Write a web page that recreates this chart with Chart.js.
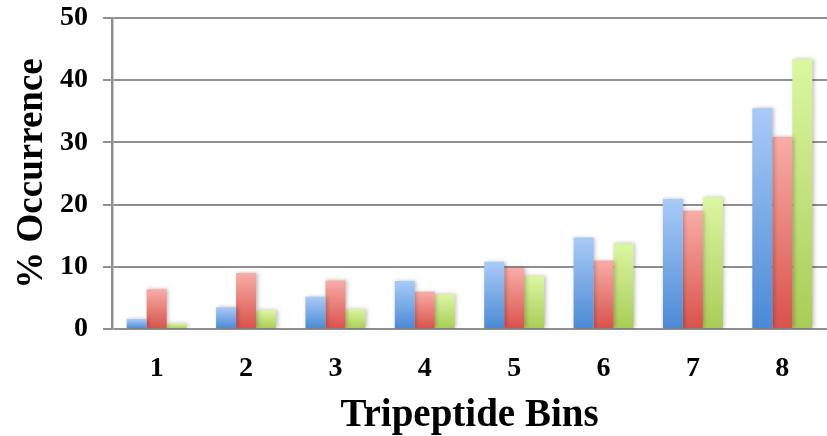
<!DOCTYPE html>
<html>
<head>
<meta charset="utf-8">
<script src="https://cdn.jsdelivr.net/npm/chart.js@4/dist/chart.umd.min.js"></script>
<style>
  html, body { margin: 0; padding: 0; background: #ffffff; }
  #wrap { width: 827px; height: 436px; }
</style>
</head>
<body>
<div id="wrap"><canvas id="chart" width="827" height="436"></canvas></div>
<script>
// Tripeptide bin occurrence, three series per bin
const bins = ['1', '2', '3', '4', '5', '6', '7', '8'];
const blueSeries  = [1.6, 3.5, 5.2, 7.7, 10.8, 14.7, 20.9, 35.5];
const redSeries   = [6.4, 9.0, 7.8, 6.0, 9.8, 11.0, 19.0, 30.9];
const greenSeries = [0.9, 3.0, 3.2, 5.6, 8.6, 13.8, 21.2, 43.4];
const yTicks = [0, 10, 20, 30, 40, 50];

const GRID = '#8f8f8f';
const SERIF = "'Liberation Serif', 'Times New Roman', serif";

// Per-bar vertical gradient: light at the top, saturated at the base
function barFill(light, dark) {
  return function (context) {
    const chart = context.chart;
    const y = chart.scales && chart.scales.y;
    if (!chart.chartArea || !y || context.parsed == null) return dark;
    const top = y.getPixelForValue(context.parsed.y);
    const base = y.getPixelForValue(0);
    if (!isFinite(top) || !isFinite(base) || top === base) return dark;
    const g = chart.ctx.createLinearGradient(0, top, 0, base);
    g.addColorStop(0, light);
    g.addColorStop(1, dark);
    return g;
  };
}

// Soft drop shadow under the bars
const barShadow = {
  id: 'barShadow',
  beforeDatasetsDraw(chart) {
    const c = chart.ctx;
    c.save();
    c.shadowColor = 'rgba(0,0,0,0.25)';
    c.shadowBlur = 4;
    c.shadowOffsetX = 1.5;
    c.shadowOffsetY = 0;
  },
  afterDatasetsDraw(chart) {
    chart.ctx.restore();
  }
};

new Chart(document.getElementById('chart'), {
  type: 'bar',
  data: {
    labels: bins,
    datasets: [
      { label: 'Series 1', data: blueSeries,  backgroundColor: barFill('#a9cbf8', '#4a89d5') },
      { label: 'Series 2', data: redSeries,   backgroundColor: barFill('#f9aca7', '#d8524b') },
      { label: 'Series 3', data: greenSeries, backgroundColor: barFill('#ddf6a3', '#a8cd55') }
    ]
  },
  options: {
    responsive: false,
    animation: false,
    devicePixelRatio: 1,
    layout: { padding: { top: 18, right: 0, bottom: 0, left: 0 } },
    datasets: {
      bar: { categoryPercentage: 0.671, barPercentage: 1.0, borderWidth: 0 }
    },
    plugins: {
      legend: { display: false },
      tooltip: { enabled: false }
    },
    scales: {
      x: {
        grid: { display: false, drawTicks: false },
        border: { display: false },
        ticks: {
          color: '#000',
          padding: 23,
          font: { family: SERIF, size: 28, weight: 'bold' }
        },
        title: {
          display: true,
          text: 'Tripeptide Bins',
          color: '#000',
          padding: { top: 0, bottom: 4 },
          font: { family: SERIF, size: 39, weight: 'bold', lineHeight: 0.8 }
        },
        afterFit(scale) { scale.height = 107; }
      },
      y: {
        min: 0,
        max: 50,
        afterBuildTicks(scale) { scale.ticks = yTicks.map(v => ({ value: v })); },
        grid: { color: GRID, lineWidth: 2, drawTicks: true, tickLength: 9, tickColor: GRID },
        border: { display: true, color: GRID, width: 2.5 },
        ticks: {
          color: '#000',
          padding: 15,
          font: { family: SERIF, size: 28, weight: 'bold' }
        },
        title: {
          display: true,
          text: '% Occurrence',
          color: '#000',
          padding: { top: 10, bottom: 0 },
          font: { family: SERIF, size: 37, weight: 'bold' }
        },
        afterFit(scale) {
          scale.width = 112;
          scale.paddingTop = 0;
          scale.paddingBottom = 0;
        }
      }
    }
  },
  plugins: [barShadow]
});
</script>
</body>
</html>
